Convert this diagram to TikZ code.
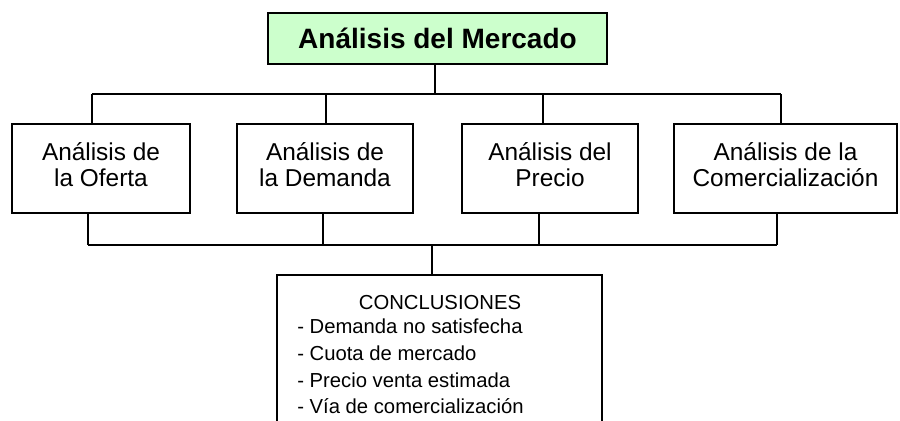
\documentclass[tikz,border=0pt]{standalone}
\usepackage{fontspec}
\setmainfont{Liberation Sans}
\definecolor{titlegreen}{HTML}{CCFFCC}
\begin{document}
\begin{tikzpicture}[x=0.75pt,y=-0.75pt,
  conn/.style={draw=black, line width=0.8pt},
  box/.style={draw=black, rectangle, line width=0.8pt, inner sep=0pt,
    minimum height=66.75pt},
  boxtext/.style={inner sep=0pt, align=center, font=\fontsize{18.3}{19.5}\selectfont},
  titlebox/.style={draw=black, fill=titlegreen, rectangle, line width=2.2pt, inner sep=0pt,
    minimum width=254.25pt, minimum height=38.25pt, font=\bfseries\fontsize{21}{24}\selectfont},
  concbox/.style={draw=black, rectangle, line width=2.2pt, inner sep=0pt,
    minimum width=243.75pt, minimum height=123.75pt},
  plaintext/.style={inner sep=0pt, font=\fontsize{15.2}{19.9}\selectfont}]
\useasboundingbox (0,0) rectangle (900,421);
\clip (0,0) rectangle (900,421);
\fill[white] (0,0) rectangle (900,421);

\node[titlebox] (top) at (437.5,38.5) {Análisis del Mercado};

\node[box, minimum width=133.5pt] (b1) at (101,168.5) {};
\node[box, minimum width=132pt] (b2) at (325,168.5) {};
\node[box, minimum width=132pt] (b3) at (550,168.5) {};
\node[box, minimum width=167.25pt] (b4) at (785.5,168.5) {};
\node[boxtext] (t1) at ([yshift=3pt]b1.center) {Análisis de\\la Oferta};
\node[boxtext] (t2x) at ([yshift=3pt]b2.center) {Análisis de\\la Demanda};
\node[boxtext] (t3x) at ([yshift=3pt]b3.center) {Análisis del\\Precio};
\node[boxtext] (t4x) at ([yshift=3pt]b4.center) {Análisis de la\\Comercialización};

\node[concbox] (conc) at (439.5,357.5) {};
\node[plaintext] (ctitle) at (440,303) {CONCLUSIONES};
\node[plaintext, anchor=north west, align=left] (clist) at (297,319)
  {- Demanda no satisfecha\\- Cuota de mercado\\- Precio venta estimada\\- Vía de comercialización};

% top bus
\coordinate (tL) at (92,94);
\coordinate (tR) at (781,94);
\coordinate (t2) at (326,94);
\coordinate (t3) at (543,94);
\draw[conn] (top.south -| 435,0) -- (435,94);
\draw[conn] (tL) -- (tR);
\draw[conn] (tL) -- (tL |- b1.north);
\draw[conn] (t2) -- (t2 |- b2.north);
\draw[conn] (t3) -- (t3 |- b3.north);
\draw[conn] (tR) -- (tR |- b4.north);

% bottom bus
\coordinate (bL) at (88,245);
\coordinate (bR) at (777,245);
\coordinate (bb2) at (323,245);
\coordinate (bb3) at (539,245);
\coordinate (bc) at (432,245);
\draw[conn] (bL) -- (bR);
\draw[conn] (bL |- b1.south) -- (bL);
\draw[conn] (bb2 |- b2.south) -- (bb2);
\draw[conn] (bb3 |- b3.south) -- (bb3);
\draw[conn] (bR |- b4.south) -- (bR);
\draw[conn] (bc) -- (bc |- conc.north);
\end{tikzpicture}
\end{document}
